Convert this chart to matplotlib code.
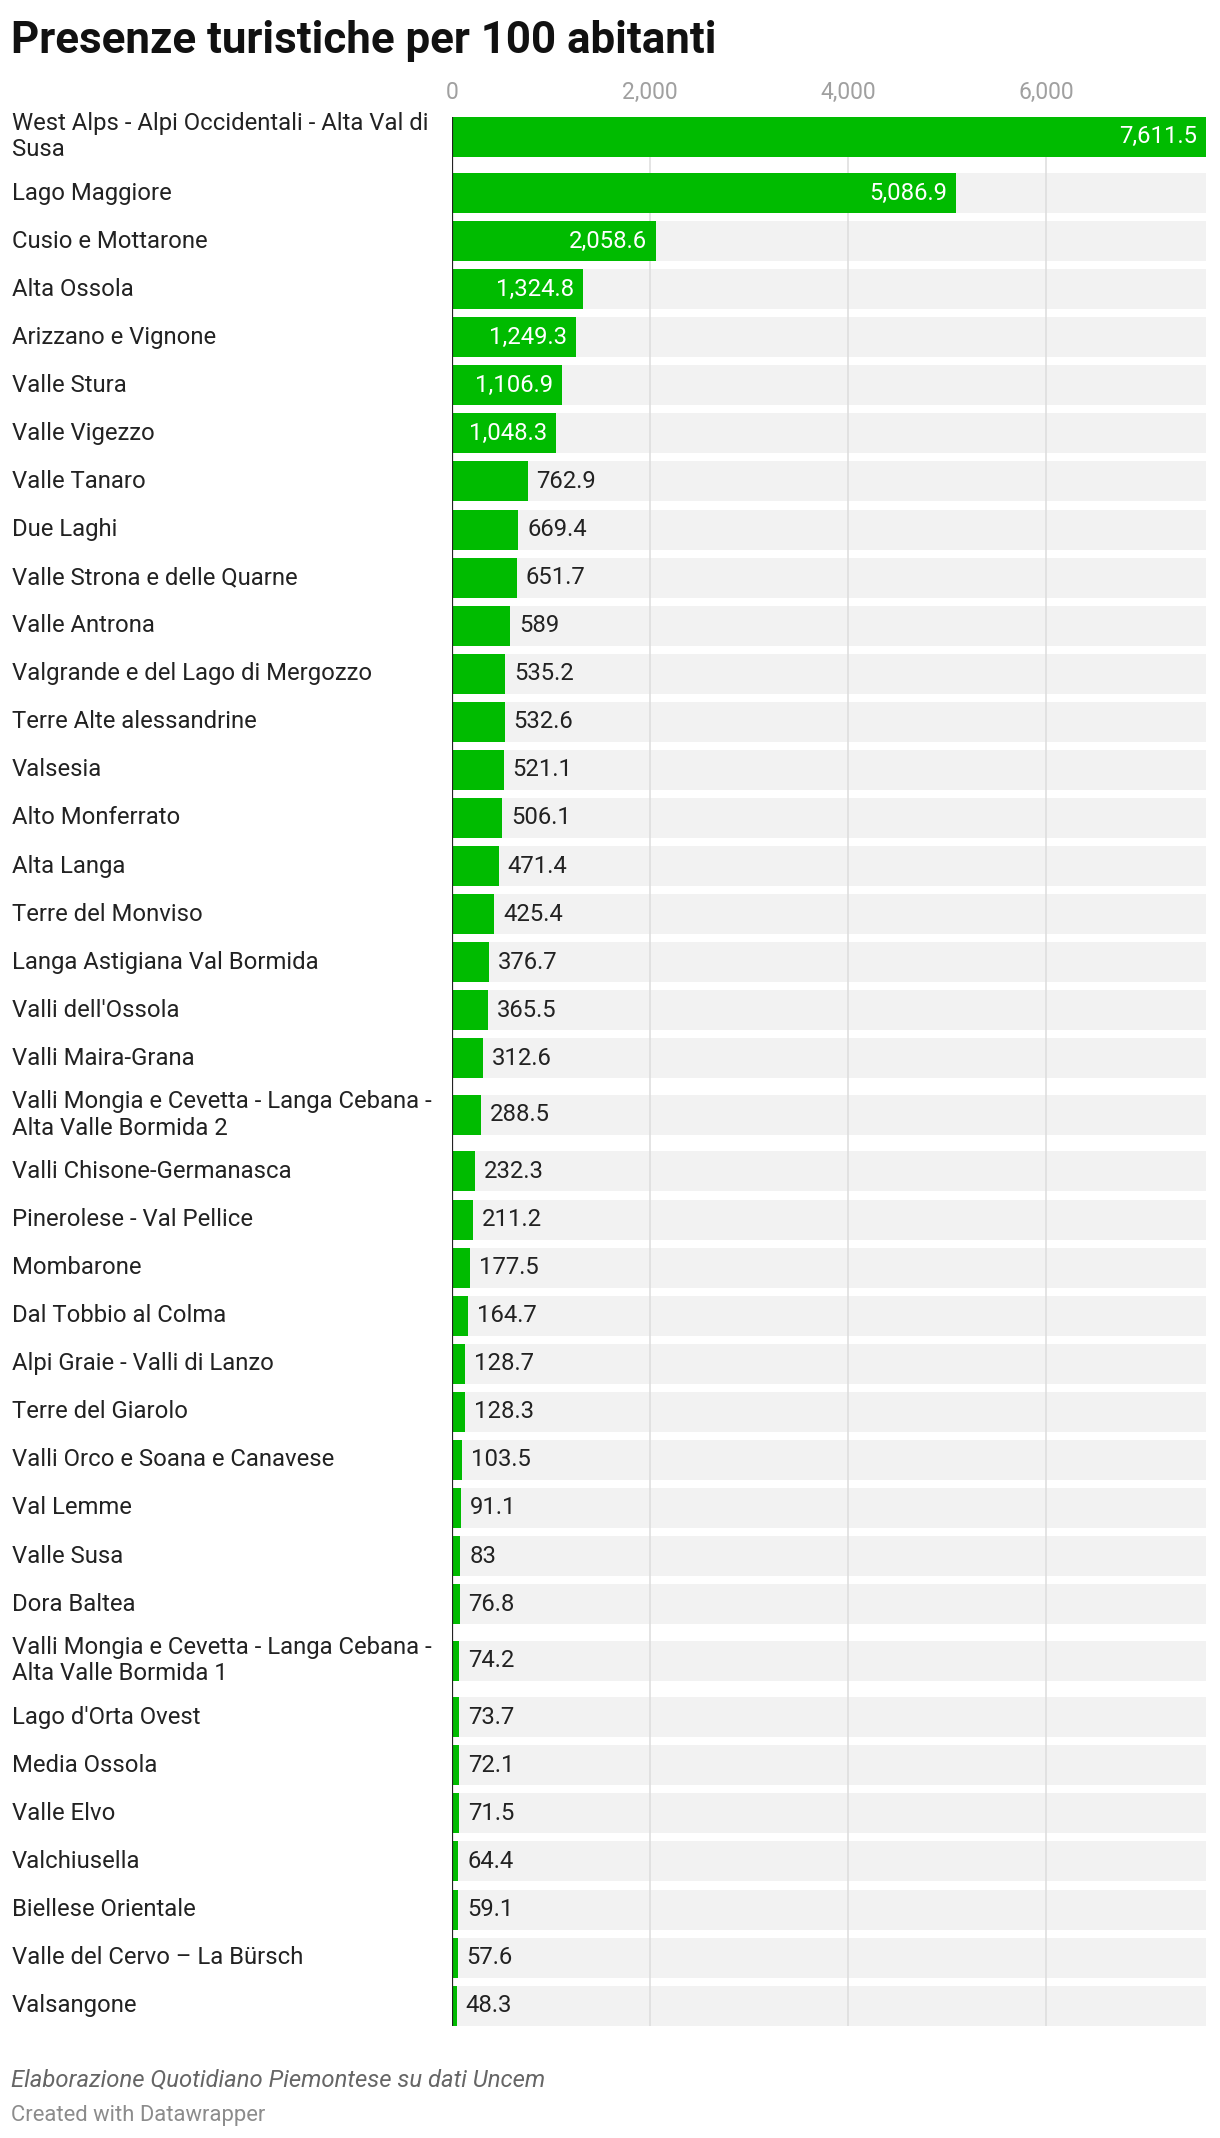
import matplotlib
matplotlib.use('Agg')
import matplotlib.pyplot as plt
import matplotlib.transforms as mtransforms

plt.rcParams['font.family'] = ['Roboto', 'DejaVu Sans']

# ===== dati =====
labels = [
    "West Alps - Alpi Occidentali - Alta Val di\nSusa",
    "Lago Maggiore",
    "Cusio e Mottarone",
    "Alta Ossola",
    "Arizzano e Vignone",
    "Valle Stura",
    "Valle Vigezzo",
    "Valle Tanaro",
    "Due Laghi",
    "Valle Strona e delle Quarne",
    "Valle Antrona",
    "Valgrande e del Lago di Mergozzo",
    "Terre Alte alessandrine",
    "Valsesia",
    "Alto Monferrato",
    "Alta Langa",
    "Terre del Monviso",
    "Langa Astigiana Val Bormida",
    "Valli dell'Ossola",
    "Valli Maira-Grana",
    "Valli Mongia e Cevetta - Langa Cebana -\nAlta Valle Bormida 2",
    "Valli Chisone-Germanasca",
    "Pinerolese - Val Pellice",
    "Mombarone",
    "Dal Tobbio al Colma",
    "Alpi Graie - Valli di Lanzo",
    "Terre del Giarolo",
    "Valli Orco e Soana e Canavese",
    "Val Lemme",
    "Valle Susa",
    "Dora Baltea",
    "Valli Mongia e Cevetta - Langa Cebana -\nAlta Valle Bormida 1",
    "Lago d'Orta Ovest",
    "Media Ossola",
    "Valle Elvo",
    "Valchiusella",
    "Biellese Orientale",
    "Valle del Cervo \u2013 La B\u00fcrsch",
    "Valsangone",
]
values = [
    7611.5, 5086.9, 2058.6, 1324.8, 1249.3, 1106.9, 1048.3, 762.9, 669.4, 651.7,
    589, 535.2, 532.6, 521.1, 506.1, 471.4, 425.4, 376.7, 365.5, 312.6,
    288.5, 232.3, 211.2, 177.5, 164.7, 128.7, 128.3, 103.5, 91.1, 83,
    76.8, 74.2, 73.7, 72.1, 71.5, 64.4, 59.1, 57.6, 48.3,
]
ticks = [0, 2000, 4000, 6000]

title = "Presenze turistiche per 100 abitanti"
source = "Elaborazione Quotidiano Piemontese su dati Uncem"
credit = "Created with Datawrapper"

# ===== layout (pixel) =====
W, H = 1220, 2138
DPI = 100
GREEN = "#00bb00"
BG = "#f2f2f2"
TXT = "#222222"

bar_h = 40
pitch = 48.07
extra = 8.5
first_c = 136.5

centers = []
for i, lab in enumerate(labels):
    n = lab.count("\n") + 1
    if i == 0:
        centers.append(first_c)
    else:
        pn = labels[i - 1].count("\n") + 1
        centers.append(centers[-1] + pitch + extra * ((pn - 1) + (n - 1)))

top_px = centers[0] - bar_h / 2
bot_px = centers[-1] + bar_h / 2
left_px, right_px = 452, 1206
xmax = max(values)

fig = plt.figure(figsize=(W / DPI, H / DPI), dpi=DPI)
ax = fig.add_axes([left_px / W, 1 - bot_px / H,
                   (right_px - left_px) / W, (bot_px - top_px) / H])
ax.set_xlim(0, xmax)
ax.set_ylim(bot_px, top_px)
for s in ax.spines.values():
    s.set_visible(False)
ax.set_yticks([])
ax.xaxis.tick_top()
ax.set_xticks(ticks)
ax.set_xticklabels([f"{t:,}" for t in ticks])
ax.tick_params(axis='x', length=0, pad=9, labelsize=16.5, labelcolor="#a0a0a0")

# sfondo righe
ax.barh(centers, [xmax] * len(values), height=bar_h, color=BG, zorder=1)
# griglia
for t in ticks[1:]:
    ax.axvline(t, color="#dcdcdc", lw=1.1, zorder=2)
# barre
ax.barh(centers, values, height=bar_h, color=GREEN, zorder=3)
ax.axvline(0, color="#222222", lw=1.6, zorder=4)

# etichette valori
for c, v in zip(centers, values):
    txt = f"{v:,.1f}" if v != int(v) else f"{int(v):,}"
    if v >= 1000:
        ax.annotate(txt, (v, c), xytext=(-9, 0), textcoords='offset pixels',
                    ha='right', va='center', color='white', fontsize=17.2, zorder=5)
    else:
        ax.annotate(txt, (v, c), xytext=(9, 0), textcoords='offset pixels',
                    ha='left', va='center', color=TXT, fontsize=17.2, zorder=5)

# etichette categorie
trans = mtransforms.blended_transform_factory(fig.transFigure, ax.transData)
for c, lab in zip(centers, labels):
    ax.text(12 / W, c, lab, transform=trans, ha='left', va='center',
            fontsize=17.2, color=TXT, linespacing=1.2)

# titolo e note
fig.text(11 / W, 1 - 41 / H, title, fontsize=31.6, fontweight='bold',
         color="#111111", ha='left', va='center')
fig.text(11 / W, 1 - 2080 / H, source, fontsize=17.2, style='italic',
         color="#666666", ha='left', va='center')
fig.text(11 / W, 1 - 2115 / H, credit, fontsize=15.8, color="#8c8c8c",
         ha='left', va='center')

fig.savefig("out.png", dpi=DPI)
